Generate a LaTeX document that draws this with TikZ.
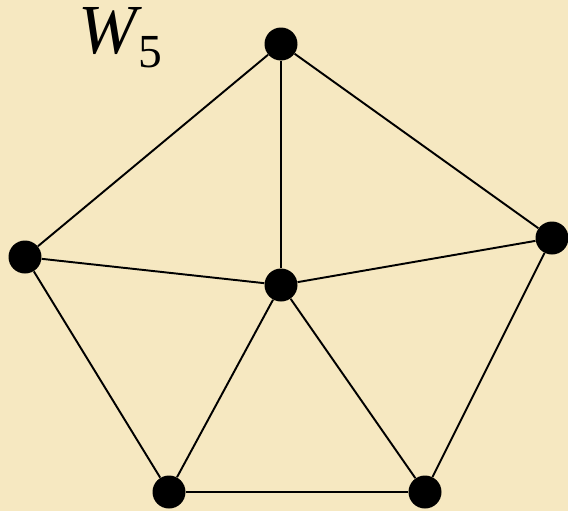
\documentclass[tikz,border=0pt]{standalone}
\usepackage{fontspec}
\setmainfont{Liberation Serif}
\usetikzlibrary{positioning}

\definecolor{parchment}{RGB}{246,232,193}

\begin{document}
\begin{tikzpicture}[
    x=0.02cm, y=-0.02cm,
    vertex/.style={circle, fill=black, inner sep=0pt, minimum size=0.66cm},
    edge/.style={draw=black, line width=1.1pt}
]

% Background
\fill[parchment] (0,0) rectangle (568,511);
\useasboundingbox (0,0) rectangle (568,511);

% Label
\node[anchor=base west, inner sep=0pt, font=\fontsize{40}{44}\selectfont] (name) at (78,53)
    {\textit{W}\kern-2pt\raisebox{-8.5pt}{\fontsize{27}{30}\selectfont 5}};

% Vertices
\node[vertex] (top) at (281,44) {};
\node[vertex] (left) at (25,257) {};
\node[vertex] (right) at (552,238) {};
\node[vertex] (hub) at (281,285) {};
\node[vertex] (botl) at (169,492) {};
\node[vertex] (botr) at (425,492) {};

% Rim
\draw[edge] (top) -- (right) -- (botr) -- (botl) -- (left) -- (top);

% Spokes
\foreach \v in {top, left, right, botl, botr}
    \draw[edge] (hub) -- (\v);

\end{tikzpicture}
\end{document}
